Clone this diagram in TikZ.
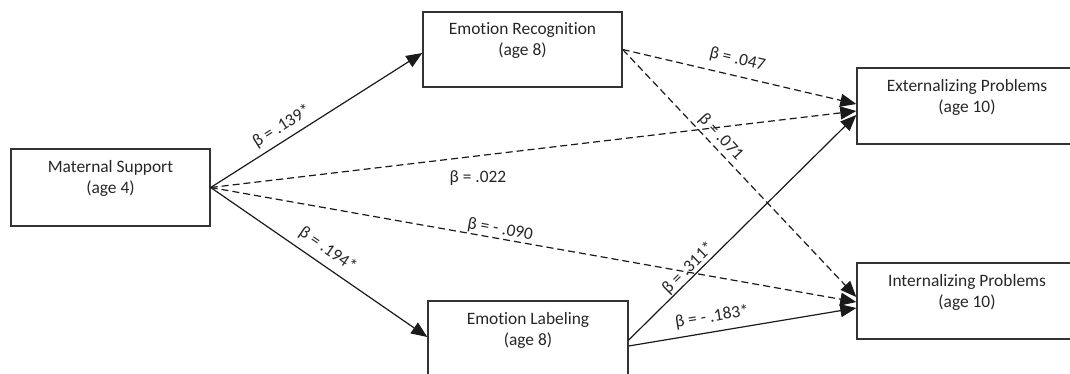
\documentclass[tikz,border=0pt]{standalone}
\usepackage{fontspec}
\setmainfont{Carlito}[Ligatures=NoCommon]
\usetikzlibrary{arrows.meta}
\definecolor{ink}{HTML}{1A1A1A}
\definecolor{boxline}{HTML}{333333}
\definecolor{txtc}{HTML}{262626}
\begin{document}
\begin{tikzpicture}[x=1pt,y=-1pt,
  every node/.style={font=\fontsize{17.4}{21}\selectfont, text=txtc},
  varbox/.style={draw=boxline, line width=1.4pt, inner sep=0pt, align=center},
  conn/.style={draw=ink, line width=1.2pt, -{Triangle[length=16pt,width=13pt]}},
  dashconn/.style={conn, dash pattern=on 7pt off 4pt},
  coef/.style={sloped, above}]
\useasboundingbox (0,0) rectangle (1070,373);
\clip (0,0) rectangle (1070,373);

\node[varbox, minimum width=199pt, minimum height=77pt] (ms) at (110.5,187.5) {Maternal Support\\(age 4)\\\mbox{}};
\node[varbox, minimum width=199pt, minimum height=75pt] (er) at (522.5,49.5) {Emotion Recognition\\(age 8)\\\mbox{}};
\node[varbox, minimum width=200pt, minimum height=77pt] (el) at (528,339.5) {Emotion Labeling\\(age 8)\\\mbox{}};
\node[varbox, minimum width=220pt, minimum height=76pt] (ext) at (967,106) {Externalizing Problems\\(age 10)\\\mbox{}};
\node[varbox, minimum width=220pt, minimum height=76pt] (int) at (967,301) {Internalizing Problems\\(age 10)\\\mbox{}};

% paths from maternal support
\draw[conn] (ms.east) -- node[coef, pos=0.37, inner sep=5pt] {β = .139*} ([yshift=-3.5pt]er.west);
\draw[conn] (ms.east) -- node[coef, pos=0.50, inner sep=7pt] {β = .194*} ([yshift=2.5pt]el.west);
\draw[dashconn] (ms.east) -- node[pos=0.414, below, inner sep=14.5pt] {β = .022} ([yshift=-5pt]ext.west);
\draw[dashconn] (ms.east) -- node[coef, pos=0.446, inner sep=0.8pt] {β = - .090} ([yshift=-1pt]int.west);

% paths from emotion recognition
\draw[dashconn] (er.east) -- node[coef, pos=0.475, inner sep=8.5pt] {β = .047} ([yshift=2pt]ext.west);
\draw[dashconn] (er.east) -- node[coef, pos=0.385, inner sep=3pt] {β = .071} ([yshift=4pt]int.west);

% paths from emotion labeling
\draw[conn] ([yshift=-0.5pt]el.east) -- node[coef, pos=0.29, inner sep=0.8pt] {β = .311*} ([yshift=-9pt]ext.west);
\draw[conn] ([yshift=-6.5pt]el.east) -- node[coef, pos=0.377, inner sep=6.5pt] {β = - .183*} ([yshift=-7pt]int.west);
\end{tikzpicture}
\end{document}
